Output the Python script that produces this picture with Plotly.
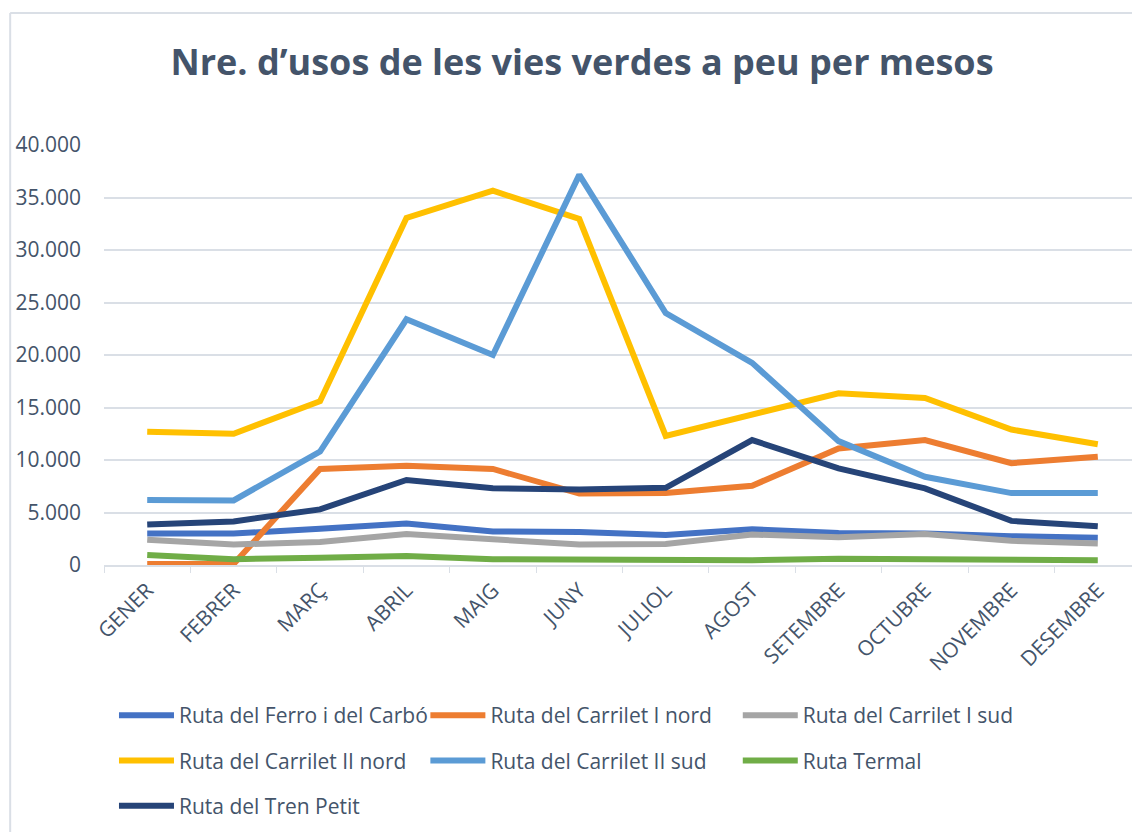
import plotly.graph_objects as go

months = ["GENER", "FEBRER", "MARÇ", "ABRIL", "MAIG", "JUNY", "JULIOL",
          "AGOST", "SETEMBRE", "OCTUBRE", "NOVEMBRE", "DESEMBRE"]

ferro_carbo = [3000, 3000, 3450, 3950, 3200, 3150, 2850, 3400, 3050, 3000, 2750, 2600]
carrilet1_nord = [100, 100, 9150, 9450, 9150, 6800, 6850, 7550, 11100, 11900, 9700, 10300]
carrilet1_sud = [2400, 1950, 2200, 2950, 2450, 1950, 2000, 2900, 2650, 2950, 2300, 2050]
carrilet2_nord = [12700, 12500, 15600, 33050, 35650, 32950, 12300, 14300, 16350, 15900, 12900, 11500]
carrilet2_sud = [6200, 6150, 10800, 23400, 20000, 37150, 24000, 19250, 11800, 8400, 6850, 6850]
termal = [950, 550, 700, 850, 550, 550, 550, 450, 600, 550, 450, 450]
tren_petit = [3850, 4150, 5300, 8100, 7300, 7200, 7350, 11900, 9200, 7300, 4200, 3700]

series = [
    ("Ruta del Ferro i del Carbó", ferro_carbo, "#4472C4", "legend"),
    ("Ruta del Carrilet I nord", carrilet1_nord, "#ED7D31", "legend2"),
    ("Ruta del Carrilet I sud", carrilet1_sud, "#A5A5A5", "legend3"),
    ("Ruta del Carrilet II nord", carrilet2_nord, "#FFC000", "legend"),
    ("Ruta del Carrilet II sud", carrilet2_sud, "#5B9BD5", "legend2"),
    ("Ruta Termal", termal, "#70AD47", "legend3"),
    ("Ruta del Tren Petit", tren_petit, "#264478", "legend"),
]

TEXT = "#44546A"
GRID = "#DADFE6"
FONT = "Open Sans"

fig = go.Figure()
for name, vals, color, lg in series:
    fig.add_trace(go.Scatter(
        x=months, y=vals, name=name, mode="lines",
        line=dict(color=color, width=6),
        legend=lg, legendgroup=name,
        hovertemplate="%{x}: %{y:,}<extra>" + name + "</extra>",
    ))

# page has an 8px body margin: work in screen coords, convert to figure coords
OFF = 8
W, H = 1140, 832
L = 102 - OFF
T = 145 - OFF
B = H - (565 - OFF)
R = W - (1141 - OFF)
pw, ph = W - L - R, H - T - B


def px_x(p):  # screen px -> paper x
    return (p - OFF - L) / pw


def px_y(p):  # screen px -> paper y
    return (H - B - (p - OFF)) / ph


legend_common = dict(
    orientation="v", yanchor="top", xanchor="left",
    font=dict(family=FONT, size=21, color=TEXT),
    bgcolor="rgba(0,0,0,0)", tracegroupgap=15, itemwidth=55,
)

fig.update_layout(
    width=W, height=H,
    margin=dict(l=L, r=R, t=T, b=B),
    paper_bgcolor="white", plot_bgcolor="white",
    separators=",.",
    title=dict(
        text="<b>Nre. d’usos de les vies verdes a peu per mesos</b>",
        x=(582 - OFF) / W, xref="container", xanchor="center",
        y=1 - (62 - OFF) / H, yref="container", yanchor="middle",
        font=dict(family=FONT, size=36, color=TEXT),
    ),
    xaxis=dict(
        type="category", range=[-0.5, 11.5],
        showgrid=False, showline=True, linecolor=GRID, linewidth=1.5,
        ticks="outside", tickson="boundaries", ticklen=6, tickcolor=GRID,
        ticklabelstandoff=3,
        tickangle=-45, tickfont=dict(family=FONT, size=21, color=TEXT),
    ),
    yaxis=dict(
        range=[0, 40000], dtick=5000, tickformat=",d",
        showgrid=True, gridcolor=GRID, gridwidth=1.5, zeroline=False,
        showline=False, ticks="", ticklabelstandoff=22,
        tickfont=dict(family=FONT, size=21, color=TEXT),
    ),
    legend=dict(x=px_x(112), y=px_y(695), **legend_common),
    legend2=dict(x=px_x(424), y=px_y(695), **legend_common),
    legend3=dict(x=px_x(737), y=px_y(695), **legend_common),
    shapes=[
        dict(type="line", xref="paper", yref="paper",
             x0=px_x(8), x1=px_x(8), y0=px_y(13), y1=px_y(H + 20),
             line=dict(color=GRID, width=2)),
        dict(type="line", xref="paper", yref="paper",
             x0=px_x(8), x1=px_x(W + 20), y0=px_y(13), y1=px_y(13),
             line=dict(color=GRID, width=2)),
    ],
)

fig.write_html("out.html")
